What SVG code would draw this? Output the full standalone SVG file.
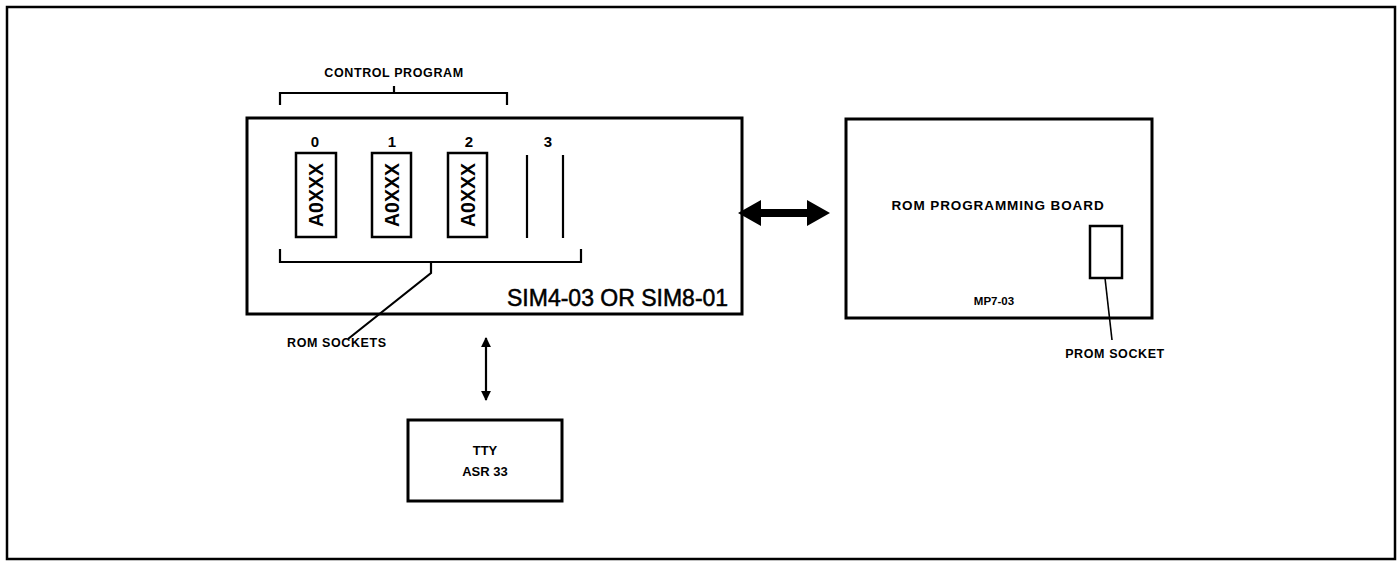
<svg xmlns="http://www.w3.org/2000/svg" width="1400" height="561" viewBox="0 0 1400 561">
<defs>
<style>
.frame{fill:none;stroke:#000;stroke-width:2.5}
.box{fill:#fff;stroke:#000;stroke-width:3}
.sock{fill:#fff;stroke:#000;stroke-width:2.5}
.ln{fill:none;stroke:#000;stroke-width:2.2}
.lbl{font-family:"Liberation Sans",Arial,sans-serif;font-weight:bold;font-size:12.5px;fill:#000;letter-spacing:0.6px}
.num{font-family:"Liberation Sans",Arial,sans-serif;font-weight:bold;font-size:15px;fill:#000;text-anchor:middle}
.chip{font-family:"Liberation Sans",Arial,sans-serif;font-weight:bold;font-size:19.5px;fill:#000;text-anchor:middle}
.big{font-family:"Liberation Sans",Arial,sans-serif;font-size:23px;fill:#000;stroke:#000;stroke-width:0.5}
</style>
<marker id="ahSmall" viewBox="0 0 10 10" refX="9" refY="5" markerWidth="4.5" markerHeight="7" markerUnits="strokeWidth" orient="auto-start-reverse">
<path d="M0,0 L10,5 L0,10 z" fill="#000"/>
</marker>
</defs>
<rect width="1400" height="561" fill="#fff"/>
<rect class="frame" x="7" y="7" width="1388" height="552"/>

<g id="sim-board">
<rect class="box" x="247" y="118" width="495" height="196"/>
<text class="big" x="507" y="306">SIM4-03 OR SIM8-01</text>
<text class="num" x="315" y="147">0</text>
<text class="num" x="392" y="147">1</text>
<text class="num" x="469" y="147">2</text>
<text class="num" x="548" y="147">3</text>
<g id="socket0">
<rect class="sock" x="296" y="153" width="40" height="84"/>
<text class="chip" transform="translate(323,195) rotate(-90)">A0XXX</text>
</g>
<g id="socket1">
<rect class="sock" x="372" y="153" width="39" height="84"/>
<text class="chip" transform="translate(399,195) rotate(-90)">A0XXX</text>
</g>
<g id="socket2">
<rect class="sock" x="448" y="153" width="39" height="84"/>
<text class="chip" transform="translate(475,195) rotate(-90)">A0XXX</text>
</g>
<g id="socket3">
<line class="ln" x1="527" y1="155" x2="527" y2="238"/>
<line class="ln" x1="563" y1="155" x2="563" y2="238"/>
</g>
</g>

<g id="control-program">
<path class="ln" d="M280,105 V93 H507 V105 M394,93 V86"/>
<text class="lbl" x="394" y="77" text-anchor="middle">CONTROL PROGRAM</text>
</g>

<g id="rom-sockets">
<path class="ln" d="M280,249 V262 H581 V249 M431,262 V273 L348,339"/>
<text class="lbl" x="287" y="347">ROM SOCKETS</text>
</g>

<g id="rom-programming-board">
<rect class="box" x="846" y="119" width="306" height="199"/>
<text class="lbl" x="998" y="210" text-anchor="middle" style="font-size:13.5px;letter-spacing:0.9px">ROM PROGRAMMING BOARD</text>
<text class="lbl" x="994" y="305" text-anchor="middle" style="font-size:11.5px;letter-spacing:0">MP7-03</text>
<rect class="sock" x="1090" y="226" width="32" height="52"/>
<path class="ln" d="M1105,278 L1112,340" style="stroke-width:1.6"/>
<text class="lbl" x="1115" y="358" text-anchor="middle">PROM SOCKET</text>
</g>

<g id="tty">
<rect class="box" x="408" y="420" width="154" height="81"/>
<text class="lbl" x="485" y="455" text-anchor="middle" style="font-size:13px;letter-spacing:0">TTY</text>
<text class="lbl" x="485" y="476" text-anchor="middle" style="font-size:13px;letter-spacing:0">ASR 33</text>
</g>

<g id="connectors">
<path d="M738,213 L761,200 L761,209 L807,209 L807,200 L830,213 L807,226 L807,217 L761,217 L761,226 Z" fill="#000"/>
<line class="ln" x1="486" y1="338" x2="486" y2="400" marker-start="url(#ahSmall)" marker-end="url(#ahSmall)"/>
</g>
</svg>
